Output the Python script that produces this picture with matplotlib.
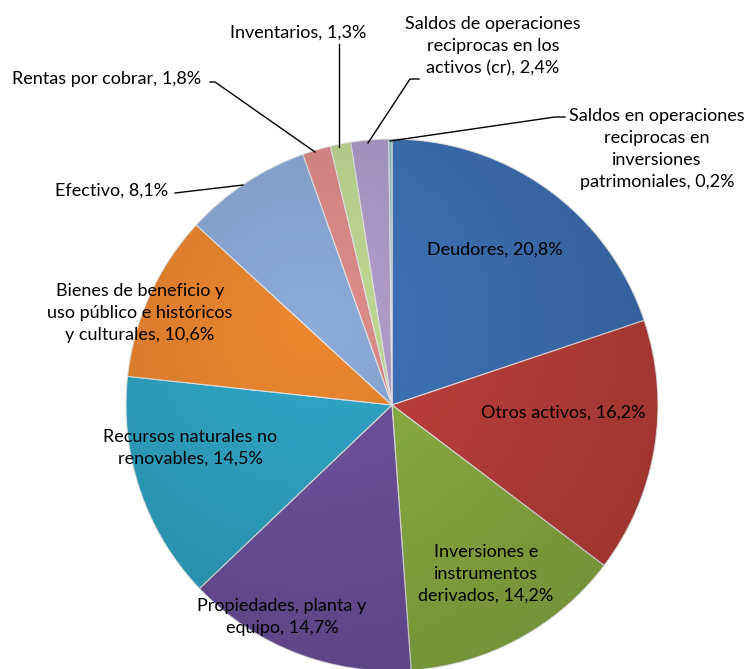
import matplotlib.pyplot as plt
import numpy as np
from matplotlib.patches import Circle

# Datos (sentido horario desde las 12)
etiquetas = [
    'Deudores, 20,8%',
    'Otros activos, 16,2%',
    'Inversiones e\ninstrumentos\nderivados, 14,2%',
    'Propiedades, planta y\nequipo, 14,7%',
    'Recursos naturales no\nrenovables, 14,5%',
    'Bienes de beneficio y\nuso público e históricos\ny culturales, 10,6%',
    'Efectivo, 8,1%',
    'Rentas por cobrar, 1,8%',
    'Inventarios, 1,3%',
    'Saldos de operaciones\nreciprocas en los\nactivos (cr), 2,4%',
    'Saldos en operaciones\nreciprocas en\ninversiones\npatrimoniales, 0,2%',
]
valores = [20.8, 16.2, 14.2, 14.7, 14.5, 10.6, 8.1, 1.8, 1.3, 2.4, 0.2]
colores = ['#3F74B9', '#C2413C', '#8EB244', '#7153A0', '#30A8C8', '#EE8830',
           '#8DACDA', '#E08E8B', '#C2DB95', '#B29FCE', '#8CC6D6']

W, H = 755, 669
fig = plt.figure(figsize=(W / 100, H / 100), dpi=100)
ax = fig.add_axes([0, 0, 1, 1])

cx, cy, r = 392, H - 405, 266
wedges, _ = ax.pie(valores, colors=colores, startangle=90, counterclock=False,
                   center=(cx, cy), radius=r, frame=True,
                   wedgeprops=dict(edgecolor='#E8E8E8', linewidth=0.8))
ax.set_xlim(0, W)
ax.set_ylim(0, H)
ax.set_aspect('equal')
ax.axis('off')

# sombreado tipo 3D
yy, xx = np.mgrid[0:1:200j, 0:1:200j]
sombra = np.zeros((200, 200, 4))
d = np.sqrt((xx - 0.35) ** 2 + (yy - 0.35) ** 2)
sombra[..., 3] = np.clip(d * 0.25, 0, 0.2)
img = ax.imshow(sombra, extent=(cx - r, cx + r, cy - r, cy + r), origin='upper', zorder=3)
img.set_clip_path(Circle((cx, cy), r, transform=ax.transData))
ax.set_xlim(0, W)
ax.set_ylim(0, H)

fuente = 'Lato'
fs = 13

# etiquetas dentro / junto a la torta (coordenadas en pixeles de la imagen)
posiciones = [(495, 250), (563, 413), (486, 574), (282, 617), (190, 448),
              (140, 313), (112, 191), (107, 79), (298, 33), (493, 46), (657, 149)]
for txt, (x, y) in zip(etiquetas, posiciones):
    ax.text(x, H - y, txt, ha='center', va='center', fontsize=fs, family=fuente,
            linespacing=1.45, zorder=5)

# lineas guia
guias = [
    [(175, 193), (243, 185)],
    [(210, 82), (215, 82), (315, 152)],
    [(339, 44), (339, 147)],
    [(419, 79), (410, 79), (368, 143)],
    [(565, 117), (555, 117), (390, 141)],
]
for g in guias:
    xs = [p[0] for p in g]
    ys = [H - p[1] for p in g]
    ax.plot(xs, ys, color='black', linewidth=1, zorder=5)

fig.savefig('out.png', dpi=100)
